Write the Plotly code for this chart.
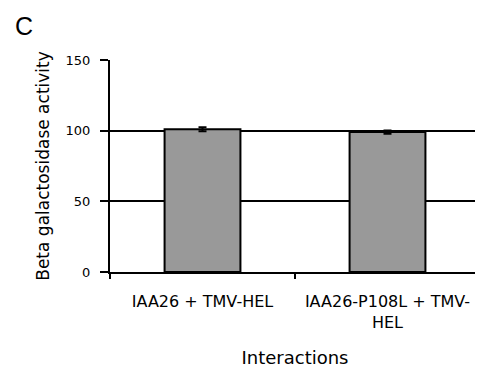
import plotly.graph_objects as go

categories = ["IAA26 + TMV-HEL", "IAA26-P108L + TMV-<br>HEL"]
values = [101, 99]
errors = [1.5, 1.2]
y_ticks = [0, 50, 100, 150]

fig = go.Figure()
fig.add_trace(go.Bar(
    x=categories, y=values,
    marker=dict(color="#999999", line=dict(color="black", width=2)),
    width=0.41,
    error_y=dict(type="data", array=errors, color="black", thickness=2, width=4),
))

fig.update_layout(
    width=475, height=365,
    margin=dict(l=102, r=3, t=52, b=101),
    plot_bgcolor="white", paper_bgcolor="white",
    font=dict(family="DejaVu Sans, sans-serif", color="black", size=12),
    showlegend=False,
    xaxis=dict(
        showline=True, linecolor="black", linewidth=2,
        ticks="outside", tickson="boundaries", ticklen=5, tickcolor="black", tickwidth=1.5,
        tickfont=dict(size=16), ticklabelstandoff=14, tickangle=0,
        title=dict(text="Interactions", font=dict(size=18), standoff=20),
    ),
    yaxis=dict(
        range=[0, 150], tickvals=y_ticks,
        showline=True, linecolor="black", linewidth=2,
        showgrid=True, gridcolor="black", gridwidth=2,
        ticks="outside", ticklen=8, tickcolor="black", tickwidth=2,
        tickfont=dict(size=13), ticklabelstandoff=7,
        zeroline=False,
        title=dict(text="Beta galactosidase activity", font=dict(size=17), standoff=12),
    ),
    annotations=[dict(text="C", x=-0.262, y=1.236, xref="paper", yref="paper", showarrow=False,
                      xanchor="left", yanchor="top", font=dict(family="Liberation Sans, Arial, sans-serif", size=25))],
)
fig.write_html("out.html")
